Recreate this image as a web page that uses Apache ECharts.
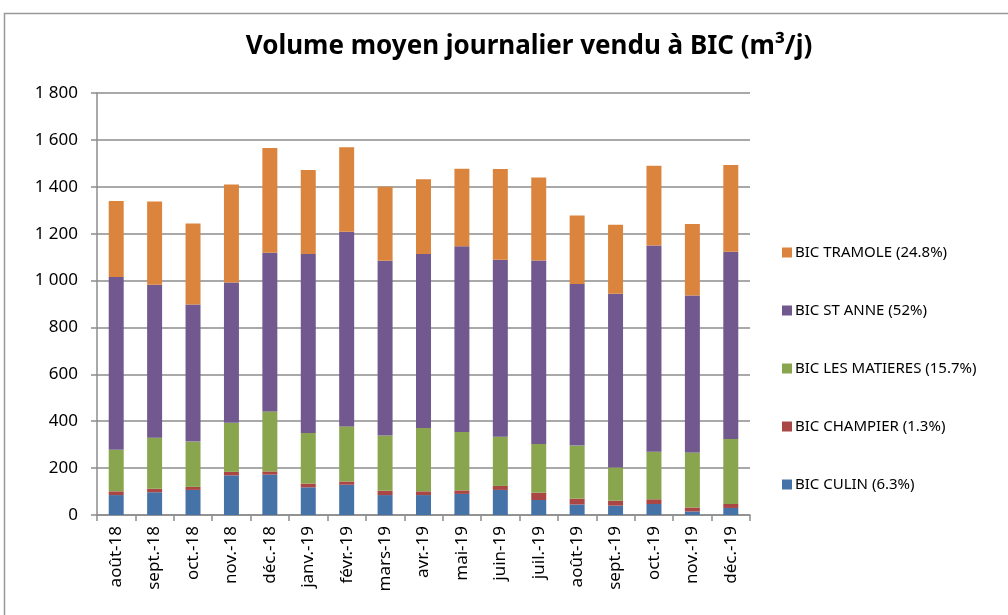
<!DOCTYPE html>
<html>
<head>
<meta charset="utf-8">
<script src="https://cdn.jsdelivr.net/npm/echarts@6/dist/echarts.min.js"></script>
<style>
  html, body { margin: 0; padding: 0; background: #fff; }
  #chart { width: 1008px; height: 615px; }
</style>
</head>
<body>
<div id="chart"></div>
<script>
// mois (catégories)
const months = ['août-18', 'sept.-18', 'oct.-18', 'nov.-18', 'déc.-18', 'janv.-19', 'févr.-19', 'mars-19', 'avr.-19',
    'mai-19', 'juin-19', 'juil.-19', 'août-19', 'sept.-19', 'oct.-19', 'nov.-19', 'déc.-19'];

// volumes par site (m3/j)
const culin    = [85, 97, 107, 169, 172, 118, 129, 85, 85, 90, 107, 64, 45, 40, 47, 15, 30];
const champier = [16, 15, 13, 15, 14, 16, 14, 19, 16, 15, 17, 31, 25, 21, 20, 17, 17];
const matieres = [177, 218, 193, 209, 256, 216, 235, 235, 270, 249, 210, 208, 226, 142, 203, 235, 277];
const stAnne   = [737, 652, 585, 599, 677, 763, 830, 746, 742, 792, 755, 783, 689, 741, 880, 669, 799];
const tramole  = [324, 355, 345, 418, 446, 359, 361, 315, 319, 331, 387, 354, 292, 294, 340, 305, 370];

const seriesNames = ['BIC CULIN (6.3%)', 'BIC CHAMPIER (1.3%)', 'BIC LES MATIERES (15.7%)', 'BIC ST ANNE (52%)', 'BIC TRAMOLE (24.8%)'];
const seriesData = [culin, champier, matieres, stAnne, tramole];
const colors = ['#4572A7', '#AA4643', '#89A54E', '#71588F', '#DB843D'];

const font = 'Noto Sans';
const gridColor = '#8c8c8c';

const fmt = v => String(v).replace(/\B(?=(\d{3})+(?!\d))/g, ' ');

const chart = echarts.init(document.getElementById('chart'));

const option = {
    backgroundColor: '#fff',
    color: colors,
    animation: false,
    title: {
        text: 'Volume moyen journalier vendu à BIC (m³/j)',
        left: 524,
        textAlign: 'center',
        top: 29,
        textStyle: { fontFamily: font, fontSize: 26, fontWeight: 'bold', color: '#000' }
    },
    graphic: [{
        type: 'rect',
        shape: { x: 4.5, y: 13.5, width: 1020, height: 620 },
        style: { fill: 'none', stroke: '#999', lineWidth: 1.5 },
        silent: true
    }],
    legend: {
        orient: 'vertical',
        left: 777,
        top: 240,
        itemGap: 43,
        itemWidth: 10,
        itemHeight: 10,
        icon: 'rect',
        data: seriesNames.slice().reverse(),
        textStyle: { fontFamily: font, fontSize: 15, color: '#000', padding: [0, 0, 0, -2] }
    },
    grid: { left: 97, right: 258, top: 93, bottom: 100 },
    xAxis: {
        type: 'category',
        data: months,
        axisLine: { lineStyle: { color: gridColor, width: 1.5 } },
        axisTick: { show: true, length: 6, lineStyle: { color: gridColor, width: 1.5 } },
        axisLabel: { rotate: 90, margin: 11, fontFamily: font, fontSize: 17, color: '#000' }
    },
    yAxis: {
        type: 'value',
        min: 0,
        max: 1800,
        interval: 200,
        axisLine: { show: true, lineStyle: { color: gridColor, width: 1.5 } },
        axisTick: { show: true, length: 6, lineStyle: { color: gridColor, width: 1.5 } },
        splitLine: { lineStyle: { color: gridColor, width: 1.5 } },
        axisLabel: { margin: 19, fontFamily: font, fontSize: 17, color: '#000', formatter: fmt }
    },
    series: seriesData.map((d, i) => ({
        name: seriesNames[i],
        type: 'bar',
        stack: 'total',
        barWidth: '39%',
        data: d,
        itemStyle: { color: colors[i] }
    }))
};

chart.setOption(option);
</script>
</body>
</html>
